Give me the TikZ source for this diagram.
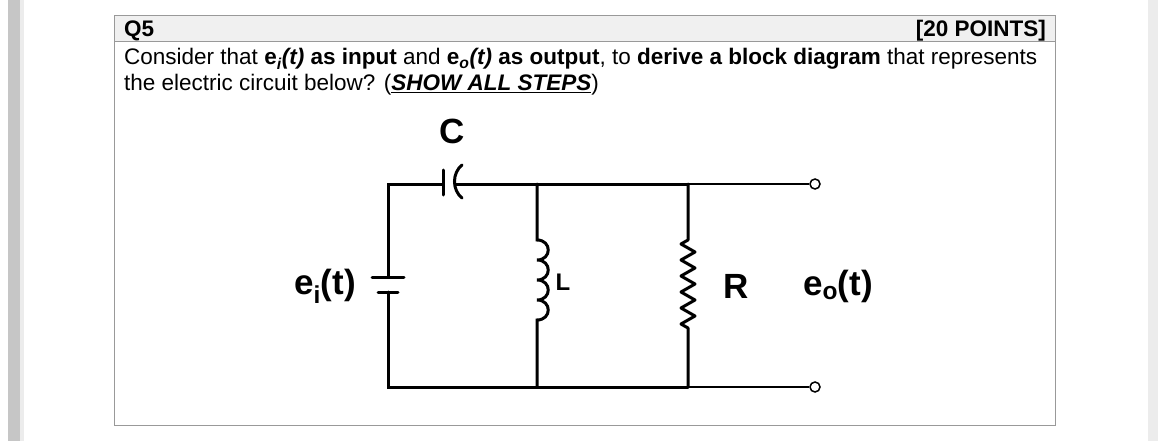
\documentclass[tikz,border=0pt]{standalone}
\usepackage{fontspec}
\setmainfont{Liberation Sans}
\begin{document}
\begin{tikzpicture}[x=1pt,y=-1pt,
 w/.style={line width=3pt,line cap=round},
 lbl/.style={font=\fontsize{35}{38}\selectfont\bfseries,inner sep=0},
 txt/.style={font=\fontsize{22.5}{26}\selectfont,inner sep=0,anchor=base west}]
\useasboundingbox (0,0) rectangle (1170,441);
\fill[gray!45] (8,0) rectangle (20,441);
\fill[gray!15] (20,0) rectangle (24,441);
\fill[gray!15] (1148,0) rectangle (1158,441);
\fill[gray!12] (114,16) rectangle (1055,42);
\draw[gray!80,line width=1pt] (114,16) rectangle (1055,425) (114,42) -- (1055,42);
\node[txt,font=\fontsize{22.5}{26}\selectfont\bfseries] (q) at (124,37) {Q5};
\node[txt,anchor=base east,font=\fontsize{22.5}{26}\selectfont\bfseries] (p) at (1046,37) {[20 POINTS]};
\node[txt] (l1) at (124,65) {Consider that \textbf{e\textsubscript{\textit{i}}\textit{(t)} as input} and \textbf{e\textsubscript{\textit{o}}\textit{(t)} as output}, to \textbf{derive a block diagram} that represents};
\node[txt] (l2) at (124,91) {the electric circuit below? (\textbf{\textit{\underline{SHOW ALL STEPS}}})};
% circuit
\coordinate (tl) at (388,184); \coordinate (bl) at (388,387);
\coordinate (tm) at (537,184); \coordinate (bm) at (537,387);
\coordinate (tr) at (688,184); \coordinate (br) at (688,387);
\node[circle,draw,line width=1.5pt,inner sep=0,minimum size=10pt,fill=white] (o1) at (815,184) {};
\node[circle,draw,line width=1.5pt,inner sep=0,minimum size=10pt,fill=white] (o2) at (815,387) {};
\draw[w] (388,276) -- (tl) -- (443,184);
\draw[w] (443,170) -- (443,195);
\draw[w] (462,165) .. controls (452,173) and (452,190) .. (462,198);
\draw[w] (455,184) -- (tr);
\draw[w] (388,292) -- (bl) -- (br);
\draw[w] (372,277) -- (404,277);
\draw[w] (378,292) -- (398,292);
% inductor
\draw[w] (tm) -- (537,240)
 .. controls (552,240) and (552,260) .. (537,260)
 .. controls (552,260) and (552,280) .. (537,280)
 .. controls (552,280) and (552,300) .. (537,300)
 .. controls (552,300) and (552,320) .. (537,320) -- (bm);
% resistor
\draw[w,line join=round] (tr) -- (688,240) -- (681,244) -- (695,252) -- (681,260) -- (695,268) -- (681,276) -- (695,284) -- (681,292) -- (695,300) -- (681,308) -- (695,316) -- (681,324) -- (688,328) -- (br);
\draw[line width=1.5pt] (tr) -- (o1) (br) -- (o2);
\node[lbl] (C) at (452,131) {C};
\node[lbl,font=\fontsize{24}{26}\selectfont\bfseries] (L) at (563,282) {L};
\node[lbl] (R) at (736,286) {R};
\node[lbl] (eo) at (838,286) {e\textsubscript{o}(t)};
\node[lbl] (ei) at (325,286) {e\textsubscript{i}(t)};
\end{tikzpicture}
\end{document}
